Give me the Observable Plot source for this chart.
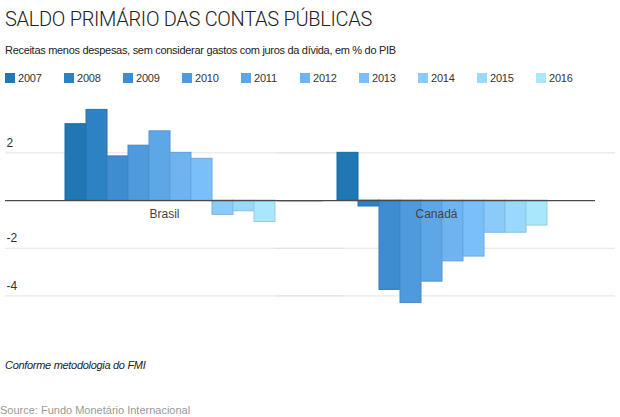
<!DOCTYPE html>
<html>
<head>
<meta charset="utf-8">
<script src="https://cdn.jsdelivr.net/npm/d3@7"></script>
<script src="https://cdn.jsdelivr.net/npm/@observablehq/plot@0.6"></script>
<style>
  html, body { margin: 0; padding: 0; background: #fff; }
  body { width: 620px; height: 417px; position: relative; overflow: hidden; font-family: "Liberation Sans", Arial, sans-serif; color: #222; }
  .abs { position: absolute; left: 5px; white-space: nowrap; }
  #title { top: 6px; font-family: Roboto, "Liberation Sans", sans-serif; font-weight: 300; font-size: 20px; letter-spacing: -0.3px; line-height: 26px; color: #222; }
  #subtitle { top: 43px; font-size: 11px; letter-spacing: -0.3px; line-height: 14px; color: #222; }
  #legend { top: 71px; display: flex; font-size: 11px; letter-spacing: -0.2px; line-height: 14px; color: #333; }
  #legend .item { width: 59px; display: flex; align-items: center; }
  #legend .sw { width: 10px; height: 10px; margin-right: 3px; }
  #chart { position: absolute; left: 0; top: 92px; }
  #caption { top: 358px; font-size: 11px; letter-spacing: -0.3px; font-style: italic; line-height: 14px; color: #222; }
  #source { top: 403px; left: 0; font-size: 11px; line-height: 14px; color: #999; }
</style>
</head>
<body>
<div id="title" class="abs">SALDO PRIMÁRIO DAS CONTAS PÚBLICAS</div>
<div id="subtitle" class="abs">Receitas menos despesas, sem considerar gastos com juros da dívida, em % do PIB</div>
<div id="legend" class="abs"></div>
<div id="chart"></div>
<div id="caption" class="abs">Conforme metodologia do FMI</div>
<div id="source" class="abs">Source: Fundo Monetário Internacional</div>
<script>
const countries = ["Brasil", "Canadá"];
const years = ["2007", "2008", "2009", "2010", "2011", "2012", "2013", "2014", "2015", "2016"];
const brasil = [3.2, 3.8, 1.85, 2.3, 2.9, 2.0, 1.75, -0.6, -0.45, -0.9];
const canada = [2.0, -0.25, -3.75, -4.3, -3.4, -2.55, -2.35, -1.35, -1.35, -1.05];
const colors = ["#1f77b4", "#2d82c4", "#3e8dd3", "#4f9add", "#5ea7e7", "#6db4f1", "#7bbffa", "#8bcbfc", "#9ad8fd", "#a9e8fc"];
const yTicks = [-4, -2, 2];

const data = years.flatMap((yr, i) => [
  {country: "Brasil", year: yr, value: brasil[i]},
  {country: "Canadá", year: yr, value: canada[i]}
]);
const strokeOf = Object.fromEntries(years.map((y, i) => [y, d3.color(colors[i]).darker(0.35).formatHex()]));

// legend
const legend = document.getElementById("legend");
years.forEach((y, i) => {
  const it = document.createElement("div");
  it.className = "item";
  it.innerHTML = `<span class="sw" style="background:${colors[i]}"></span><span>${y}</span>`;
  legend.appendChild(it);
});

const chart = Plot.plot({
  width: 620,
  height: 228,
  marginLeft: 34,
  marginRight: 42,
  marginTop: 0,
  marginBottom: 0,
  style: {fontFamily: "Liberation Sans, Arial, sans-serif", fontSize: "12px", color: "#333", background: "transparent"},
  fx: {domain: countries, padding: 0, axis: null, label: null},
  x: {domain: years, paddingInner: 0, paddingOuter: 1.375, axis: null},
  y: {domain: [-5.03, 4.53], axis: null},
  color: {domain: years, range: colors},
  marks: [
    Plot.ruleY(yTicks, {stroke: "#e2e2e2", strokeWidth: 1, insetLeft: -29, insetRight: -37}),
    Plot.barY(data, {fx: "country", x: "year", y: "value", fill: "year", stroke: d => strokeOf[d.year], strokeWidth: 1}),
    Plot.ruleY([0], {stroke: "#4a4a4a", strokeWidth: 1.2, insetLeft: -29, insetRight: -17}),
    Plot.text(countries, {fx: d => d, y: () => 0, text: d => d, dx: -6, dy: 14, fill: "#444", fontSize: 12}),
    Plot.axisY(yTicks, {anchor: "left", tickSize: 0, tickPadding: 0, textAnchor: "start", dx: -28, dy: -10, fontSize: 12, fill: "#333", label: null, tickFormat: d => String(d)})
  ]
});
document.getElementById("chart").appendChild(chart);
</script>
</body>
</html>
